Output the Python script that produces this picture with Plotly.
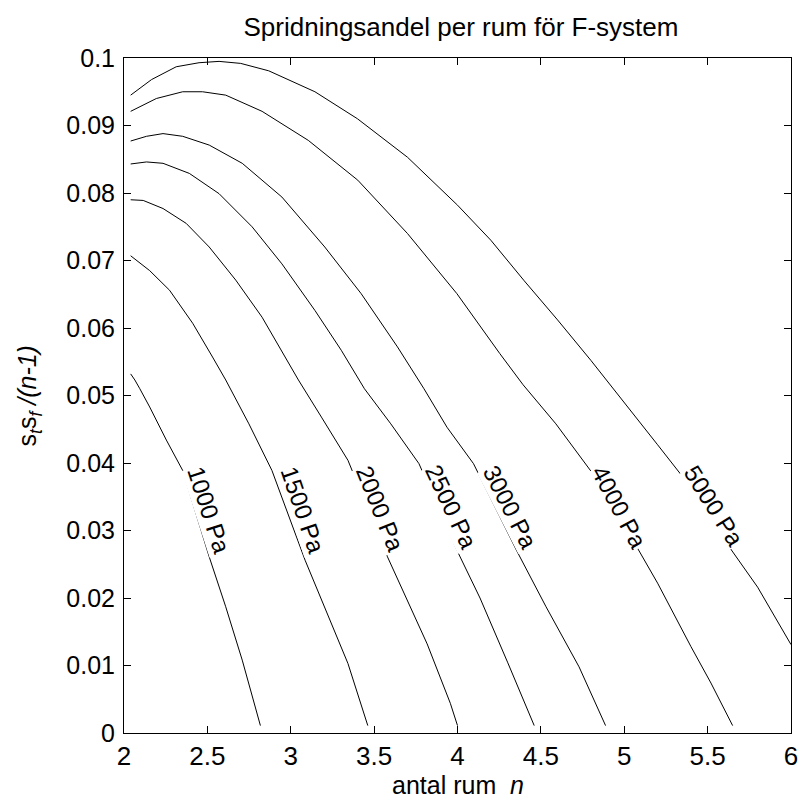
import plotly.graph_objects as go

# ---- data ----
pressure_labels = ["1000 Pa", "1500 Pa", "2000 Pa", "2500 Pa", "3000 Pa", "4000 Pa", "5000 Pa"]

x_1000 = [2.04, 2.065, 2.095, 2.154, 2.254, 2.352, 2.511, 2.61, 2.709, 2.818]
y_1000 = [0.0532, 0.0523, 0.0510, 0.0483, 0.0434, 0.0389, 0.0261, 0.0187, 0.0108, 0.0011]

x_1500 = [2.04, 2.154, 2.273, 2.412, 2.531, 2.61, 2.749, 2.887, 3.086, 3.204, 3.343, 3.462]
y_1500 = [0.0707, 0.0685, 0.0656, 0.0607, 0.0557, 0.0523, 0.0458, 0.0389, 0.0256, 0.0187, 0.0103, 0.0011]

x_2000 = [2.04, 2.115, 2.234, 2.373, 2.511, 2.67, 2.828, 2.967, 3.046, 3.184, 3.343, 3.58, 3.70, 3.818, 3.957, 4.0]
y_2000 = [0.0790, 0.0789, 0.0777, 0.0755, 0.0720, 0.0671, 0.0616, 0.0557, 0.0523, 0.0468, 0.0404, 0.0261, 0.0197, 0.0132, 0.0044, 0.0011]

x_2500 = [2.04, 2.135, 2.234, 2.392, 2.57, 2.768, 2.947, 3.145, 3.303, 3.442, 3.60, 3.769, 3.996, 4.135, 4.30, 4.46]
y_2500 = [0.0843, 0.0846, 0.0844, 0.0829, 0.0799, 0.0750, 0.0695, 0.0626, 0.0567, 0.0510, 0.0458, 0.0399, 0.0271, 0.0200, 0.0105, 0.0011]

x_3000 = [2.04, 2.135, 2.234, 2.352, 2.511, 2.709, 2.947, 3.204, 3.422, 3.64, 3.799, 3.937, 4.096, 4.353, 4.531, 4.729, 4.888]
y_3000 = [0.0877, 0.0884, 0.0888, 0.0884, 0.0871, 0.0844, 0.0794, 0.0720, 0.0651, 0.0572, 0.0510, 0.0453, 0.0399, 0.0271, 0.0187, 0.0098, 0.0011]

x_4000 = [2.04, 2.194, 2.352, 2.471, 2.61, 2.828, 3.105, 3.402, 3.70, 3.996, 4.254, 4.393, 4.59, 4.8, 5.0, 5.2, 5.4, 5.52, 5.65]
y_4000 = [0.0921, 0.0940, 0.0950, 0.0950, 0.0945, 0.0921, 0.0878, 0.0819, 0.0740, 0.0651, 0.0562, 0.0516, 0.0458, 0.0388, 0.0308, 0.0222, 0.0128, 0.0074, 0.0011]

x_5000 = [2.04, 2.165, 2.313, 2.45, 2.57, 2.70, 2.868, 3.145, 3.40, 3.70, 4.0, 4.2, 4.4, 4.6, 4.8, 5.0, 5.2, 5.4, 5.6, 5.8, 6.0]
y_5000 = [0.0945, 0.0968, 0.0987, 0.0993, 0.0995, 0.0992, 0.0981, 0.0950, 0.0910, 0.0853, 0.0782, 0.0730, 0.0670, 0.0612, 0.0552, 0.0490, 0.0427, 0.0364, 0.0286, 0.0216, 0.0131]

curves_x = [x_1000, x_1500, x_2000, x_2500, x_3000, x_4000, x_5000]
curves_y = [y_1000, y_1500, y_2000, y_2500, y_3000, y_4000, y_5000]

label_x = [2.511, 3.075, 3.535, 3.96, 4.317, 4.971, 5.541]
label_y = [0.0330, 0.0330, 0.0332, 0.0335, 0.0334, 0.0334, 0.0336]
label_angle = [72, 71, 68, 65, 63, 62, 58]

x_ticks = [2, 2.5, 3, 3.5, 4, 4.5, 5, 5.5, 6]
x_ticktext = ["2", "2.5", "3", "3.5", "4", "4.5", "5", "5.5", "6"]
y_ticks = [0, 0.01, 0.02, 0.03, 0.04, 0.05, 0.06, 0.07, 0.08, 0.09, 0.1]
y_ticktext = ["0", "0.01", "0.02", "0.03", "0.04", "0.05", "0.06", "0.07", "0.08", "0.09", "0.1"]

FONT = "Liberation Sans, Arial, sans-serif"

fig = go.Figure()
for xs, ys, name in zip(curves_x, curves_y, pressure_labels):
    fig.add_trace(go.Scatter(x=xs, y=ys, mode="lines", name=name,
                             line=dict(color="black", width=1), showlegend=False,
                             hoverinfo="skip"))

for lx, ly, ang, txt in zip(label_x, label_y, label_angle, pressure_labels):
    fig.add_annotation(x=lx, y=ly, xref="x", yref="y", text=txt, showarrow=False,
                       textangle=ang, bgcolor="white", borderpad=0,
                       font=dict(family=FONT, size=24, color="black"))

W, H = 806, 798
ml, mr, mt, mb = 124, 8, 58, 65
pw, ph = W - ml - mr, H - mt - mb

# y axis label
fig.add_annotation(xref="paper", yref="paper", x=(28 - ml) / pw, y=0.5,
                   text="s<sub><i>t</i></sub>s<sub><i>f</i></sub> <i>/(n-1)</i>",
                   textangle=-90, showarrow=False, xanchor="center", yanchor="middle",
                   font=dict(family=FONT, size=25, color="black"))
# x axis label
fig.add_annotation(xref="paper", yref="paper", x=0.5, y=-(785 - (mt + ph)) / ph,
                   text="antal rum  <i>n</i>", showarrow=False,
                   xanchor="center", yanchor="middle",
                   font=dict(family=FONT, size=25, color="black"))

axis_common = dict(showline=True, linecolor="black", linewidth=1, mirror="ticks",
                   ticks="inside", ticklen=7, tickwidth=1, tickcolor="black",
                   showgrid=False, zeroline=False)

fig.update_layout(
    width=W, height=H,
    margin=dict(l=ml, r=mr, t=mt, b=mb),
    paper_bgcolor="white", plot_bgcolor="white",
    title=dict(text="Spridningsandel per rum för F-system", x=(ml + pw / 2) / W,
               xanchor="center", y=1 - 27 / H, yanchor="middle",
               font=dict(family=FONT, size=26, color="black")),
    xaxis=dict(range=[2, 6], tickvals=x_ticks, ticktext=x_ticktext,
               tickfont=dict(family=FONT, size=26, color="black"), **axis_common),
    yaxis=dict(range=[0, 0.1], tickvals=y_ticks, ticktext=y_ticktext,
               ticklabelstandoff=3,
               tickfont=dict(family=FONT, size=25, color="black"), **axis_common),
)

fig.write_html("out.html")
